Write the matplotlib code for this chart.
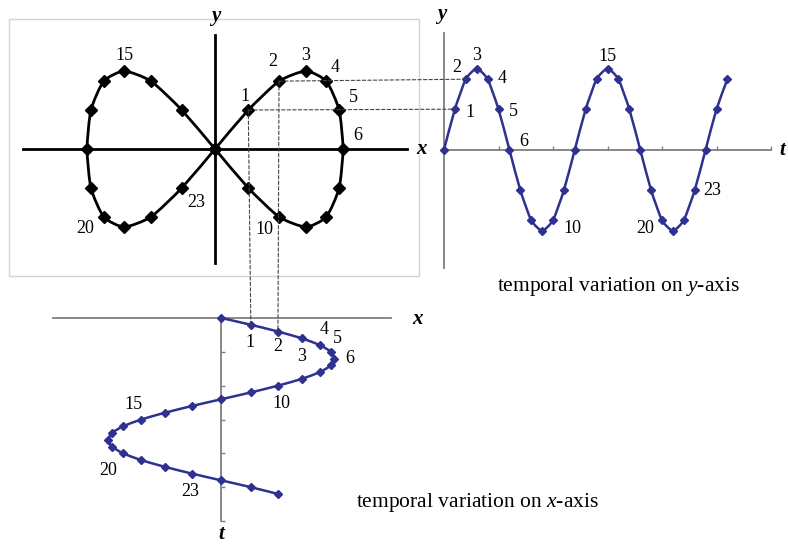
import matplotlib
matplotlib.use("Agg")
import matplotlib.pyplot as plt
from matplotlib.patches import Rectangle, ConnectionPatch, PathPatch
from matplotlib.path import Path

# ---------------- data ----------------
t_steps = [0, 1, 2, 3, 4, 5, 6, 7, 8, 9, 10, 11, 12, 13, 14, 15, 16, 17, 18,
           19, 20, 21, 22, 23, 24, 25, 26]
x_vals = [0, 0.26, 0.5, 0.71, 0.87, 0.97, 1.0, 0.97, 0.87, 0.71, 0.5, 0.26, 0,
          -0.26, -0.5, -0.71, -0.87, -0.97, -1.0, -0.97, -0.87, -0.71, -0.5, -0.26,
          0, 0.26, 0.5]
y_vals = [0, 0.5, 0.87, 1.0, 0.87, 0.5, 0, -0.5, -0.87, -1.0, -0.87, -0.5, 0,
          0.5, 0.87, 1.0, 0.87, 0.5, 0, -0.5, -0.87, -1.0, -0.87, -0.5, 0, 0.5, 0.87]
loop_len = 25  # the figure-eight uses steps 0..24

labelled_steps = [1, 2, 3, 4, 5, 6, 10, 15, 20, 23]
t_ticks = [5, 10, 15, 20, 25, 30]
caption_y = "temporal variation on $y$-axis"
caption_x = "temporal variation on $x$-axis"

# label offsets (pixels) per chart
off_loop = {1: (-3, 14), 2: (-6, 20), 3: (0, 16), 4: (9, 14), 5: (14, 13),
            6: (15, 14), 10: (-15, -13), 15: (0, 16), 20: (-19, -12), 23: (14, -14)}
off_ty = {1: (15, -3), 2: (-9, 12), 3: (0, 13), 4: (15, 1), 5: (15, -2),
          6: (14, 8), 10: (19, -8), 15: (0, 12), 20: (-17, -8), 23: (18, 0)}
off_tx = {1: (-1, -18), 2: (0, -15), 3: (0, -18), 4: (4, 16), 5: (6, 13),
          6: (15, 0), 10: (3, -18), 15: (-8, 15), 20: (-15, -17), 23: (-2, -18)}

plt.rcParams["mathtext.fontset"] = "custom"
plt.rcParams["mathtext.rm"] = "Liberation Serif"
plt.rcParams["mathtext.it"] = "Liberation Serif:italic"

W, H = 788, 544
fig = plt.figure(figsize=(W / 100, H / 100), dpi=100)
fig.patch.set_facecolor("white")

SERIF = ["Liberation Serif", "DejaVu Serif"]
NAVY = "#2e3190"
GRAY = "#7f7f7f"
TENSION = 1.0 / 10.0


def box(l, t, r, b):
    return [l / W, 1 - b / H, (r - l) / W, (b - t) / H]


def ftext(x, y, s, **kw):
    fig.text(x / W, 1 - y / H, s, ha="center", va="center", **kw)


def smooth_line(ax, xs, ys, color, lw):
    """Lightly smoothed line: cubic Bezier through the data points."""
    n = len(xs)
    verts = [(xs[0], ys[0])]
    codes = [Path.MOVETO]
    for i in range(n - 1):
        x0, y0 = xs[max(i - 1, 0)], ys[max(i - 1, 0)]
        x1, y1 = xs[i], ys[i]
        x2, y2 = xs[i + 1], ys[i + 1]
        x3, y3 = xs[min(i + 2, n - 1)], ys[min(i + 2, n - 1)]
        c1 = (x1 + (x2 - x0) * TENSION, y1 + (y2 - y0) * TENSION)
        c2 = (x2 - (x3 - x1) * TENSION, y2 - (y3 - y1) * TENSION)
        verts += [c1, c2, (x2, y2)]
        codes += [Path.CURVE4, Path.CURVE4, Path.CURVE4]
    ax.add_patch(PathPatch(Path(verts, codes), fill=False, edgecolor=color,
                           lw=lw, zorder=3, clip_on=False, capstyle="round",
                           joinstyle="round"))


num_kw = dict(fontsize=13, family=SERIF, ha="center", va="center")
axlab_kw = dict(fontsize=15, family=SERIF, style="italic", weight="bold")
cap_kw = dict(fontsize=15.5, family=SERIF)

# ---------------- figure-eight ----------------
ax1 = fig.add_axes(box(9, 19, 419, 276))
ax1.set_xlim(-1.61, 1.594)
ax1.set_ylim(-1.628, 1.667)
ax1.set_xticks([])
ax1.set_yticks([])
for s in ax1.spines.values():
    s.set_visible(False)
ax1.add_patch(Rectangle((0, 0), 1, 1, transform=ax1.transAxes, fill=False,
                        edgecolor="#d4d4d4", lw=1.0, clip_on=False))
ax1.plot([-1.5, 1.5], [0, 0], color="black", lw=2.0, zorder=2)
ax1.plot([0, 0], [-1.46, 1.46], color="black", lw=2.0, zorder=2)
smooth_line(ax1, x_vals[:loop_len], y_vals[:loop_len], "black", 2.0)
ax1.plot(x_vals[:loop_len], y_vals[:loop_len], linestyle="none",
         marker="D", ms=6, mfc="black", mec="black", zorder=4, clip_on=False)
for i in labelled_steps:
    ax1.annotate(str(t_steps[i]), (x_vals[i], y_vals[i]), xytext=off_loop[i],
                 textcoords="offset pixels", **num_kw)
ftext(216, 16, "y", **axlab_kw)
ftext(422, 149, "x", **axlab_kw)

# ---------------- y over time (top right) ----------------
ax2 = fig.add_axes(box(444, 33, 771, 268))
ax2.set_xlim(0, 30)
ax2.set_ylim(-1.46, 1.44)
ax2.patch.set_alpha(0)
for k in ("top", "right"):
    ax2.spines[k].set_visible(False)
ax2.spines["bottom"].set_position(("data", 0))
for k in ("bottom", "left"):
    ax2.spines[k].set_color(GRAY)
    ax2.spines[k].set_linewidth(1.3)
ax2.set_xticks(t_ticks)
ax2.set_xticklabels([])
ax2.set_yticks([])
ax2.tick_params(axis="x", direction="in", length=3, width=1, color=GRAY)
smooth_line(ax2, t_steps, y_vals, NAVY, 1.8)
ax2.plot(t_steps, y_vals, linestyle="none", marker="D", ms=4.5,
         mfc=NAVY, mec=NAVY, zorder=4, clip_on=False)
for i in labelled_steps:
    ax2.annotate(str(t_steps[i]), (t_steps[i], y_vals[i]), xytext=off_ty[i],
                 textcoords="offset pixels", **num_kw)
ftext(442, 14, "y", **axlab_kw)
ftext(782, 150, "t", **axlab_kw)
ftext(619, 287, caption_y, **cap_kw)

# ---------------- x over time (bottom) ----------------
ax3 = fig.add_axes(box(53, 318, 391, 521))
ax3.set_xlim(-1.49, 1.5)
ax3.set_ylim(30, 0)
ax3.patch.set_alpha(0)
for k in ("bottom", "right"):
    ax3.spines[k].set_visible(False)
ax3.spines["left"].set_position(("data", 0))
for k in ("top", "left"):
    ax3.spines[k].set_color(GRAY)
    ax3.spines[k].set_linewidth(1.3)
ax3.set_yticks(t_ticks)
ax3.set_yticklabels([])
ax3.set_xticks([])
ax3.tick_params(axis="y", direction="in", length=3, width=1, color=GRAY)
smooth_line(ax3, x_vals, t_steps, NAVY, 1.8)
ax3.plot(x_vals, t_steps, linestyle="none", marker="D", ms=4.5,
         mfc=NAVY, mec=NAVY, zorder=4, clip_on=False)
for i in labelled_steps:
    ax3.annotate(str(t_steps[i]), (x_vals[i], t_steps[i]), xytext=off_tx[i],
                 textcoords="offset pixels", **num_kw)
ftext(418, 319, "x", **axlab_kw)
ftext(221, 534, "t", **axlab_kw)
ftext(478, 503, caption_x, **cap_kw)

# ---------------- dashed projection lines ----------------
dash_kw = dict(color="#444444", lw=0.8, linestyle=(0, (3, 2)), zorder=1)
for i in (1, 2):
    fig.add_artist(ConnectionPatch((x_vals[i], y_vals[i]), (t_steps[i], y_vals[i]),
                                   "data", "data", axesA=ax1, axesB=ax2, **dash_kw))
    fig.add_artist(ConnectionPatch((x_vals[i], y_vals[i]), (x_vals[i], t_steps[i]),
                                   "data", "data", axesA=ax1, axesB=ax3, **dash_kw))

fig.savefig("out.png", dpi=100)
